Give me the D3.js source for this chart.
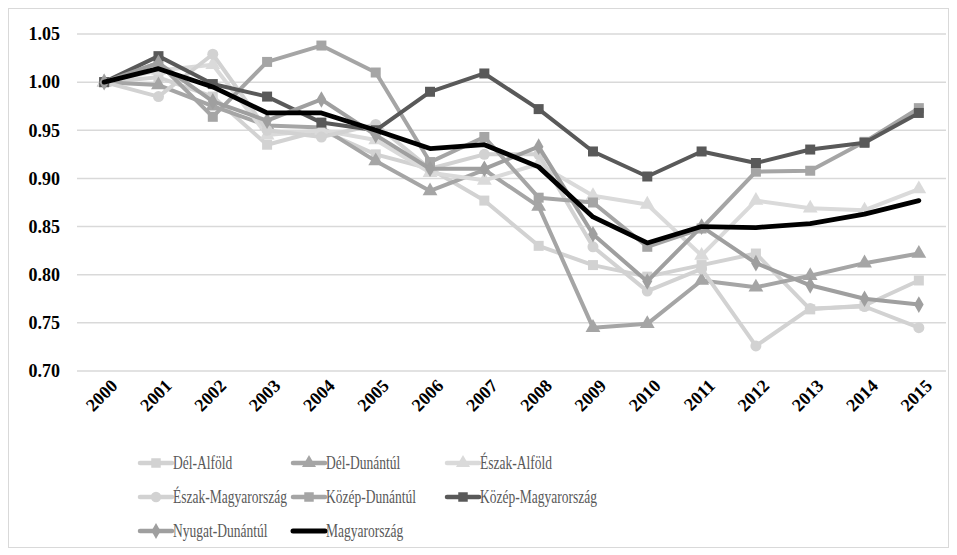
<!DOCTYPE html>
<html>
<head>
<meta charset="utf-8">
<script src="https://cdn.jsdelivr.net/npm/d3@7"></script>
<style>
  body { margin: 0; background: #fff; }
  svg { display: block; }
</style>
</head>
<body>
<svg id="chart" width="957" height="555"></svg>
<script>
"use strict";

var years = ["2000", "2001", "2002", "2003", "2004", "2005", "2006", "2007",
  "2008", "2009", "2010", "2011", "2012", "2013", "2014", "2015"];
var yTicks = [0.70, 0.75, 0.80, 0.85, 0.90, 0.95, 1.00, 1.05];

var delAlfold = [1.00, 1.005, 0.985, 0.935, 0.95, 0.925, 0.91, 0.877, 0.83, 0.81, 0.798, 0.81, 0.822, 0.764, 0.768, 0.794];
var delDunantul = [1.00, 0.997, 0.975, 0.955, 0.953, 0.918, 0.887, 0.909, 0.871, 0.745, 0.749, 0.794, 0.787, 0.799, 0.812, 0.822];
var eszakAlfold = [1.00, 1.012, 1.018, 0.945, 0.95, 0.94, 0.906, 0.898, 0.915, 0.882, 0.873, 0.82, 0.877, 0.869, 0.867, 0.889];
var eszakMagyar = [1.00, 0.985, 1.029, 0.95, 0.943, 0.956, 0.91, 0.925, 0.925, 0.829, 0.783, 0.806, 0.726, 0.765, 0.767, 0.745];
var kozepDunantul = [1.00, 1.02, 0.964, 1.021, 1.038, 1.010, 0.917, 0.943, 0.88, 0.875, 0.829, 0.848, 0.907, 0.908, 0.938, 0.973];
var kozepMagyar = [1.00, 1.027, 0.998, 0.985, 0.958, 0.95, 0.99, 1.009, 0.972, 0.928, 0.902, 0.928, 0.916, 0.93, 0.937, 0.968];
var nyugatDunantul = [1.00, 1.02, 0.98, 0.96, 0.982, 0.945, 0.91, 0.91, 0.933, 0.842, 0.793, 0.85, 0.812, 0.789, 0.775, 0.769];
var magyarorszag = [1.00, 1.014, 0.995, 0.968, 0.968, 0.95, 0.931, 0.935, 0.912, 0.86, 0.833, 0.85, 0.849, 0.853, 0.863, 0.877];

var series = [
  { name: "Dél-Alföld", values: delAlfold, color: "#d2d2d2", marker: "square" },
  { name: "Dél-Dunántúl", values: delDunantul, color: "#a5a5a5", marker: "triangle" },
  { name: "Észak-Alföld", values: eszakAlfold, color: "#dadada", marker: "triangle" },
  { name: "Észak-Magyarország", values: eszakMagyar, color: "#d2d2d2", marker: "circle" },
  { name: "Közép-Dunántúl", values: kozepDunantul, color: "#a5a5a5", marker: "square" },
  { name: "Közép-Magyarország", values: kozepMagyar, color: "#595959", marker: "square" },
  { name: "Nyugat-Dunántúl", values: nyugatDunantul, color: "#9f9f9f", marker: "diamond" },
  { name: "Magyarország", values: magyarorszag, color: "#000000", marker: null }
];

var serif = "'Liberation Serif', 'Times New Roman', serif";
var svg = d3.select("#chart");

// keret
svg.append("rect")
  .attr("x", 8.5).attr("y", 8.5)
  .attr("width", 940).attr("height", 539)
  .attr("fill", "#fff")
  .attr("stroke", "#d9d9d9")
  .attr("stroke-width", 1);

var x = d3.scalePoint().domain(years).range([77, 946]).padding(0.5);
var y = d3.scaleLinear().domain([0.70, 1.05]).range([371, 34]);

// rács
svg.append("g")
  .selectAll("line")
  .data(yTicks)
  .join("line")
  .attr("x1", 77).attr("x2", 946)
  .attr("y1", function(d) { return y(d); })
  .attr("y2", function(d) { return y(d); })
  .attr("stroke", "#d9d9d9")
  .attr("stroke-width", 1.5);

// y tengely
var yAxis = svg.append("g")
  .attr("transform", "translate(60,0)")
  .call(d3.axisLeft(y).tickValues(yTicks).tickFormat(d3.format(".2f")).tickSize(0).tickPadding(0));
yAxis.select(".domain").remove();
yAxis.selectAll("text")
  .attr("font-family", serif)
  .attr("font-weight", "bold")
  .attr("font-size", 18)
  .attr("fill", "#000");

// x tengely, ferde feliratok
var xAxis = svg.append("g")
  .attr("transform", "translate(0,378)")
  .call(d3.axisBottom(x).tickSize(0).tickPadding(0));
xAxis.select(".domain").remove();
xAxis.selectAll("text")
  .attr("font-family", serif)
  .attr("font-weight", "bold")
  .attr("font-size", 18)
  .attr("fill", "#000")
  .attr("text-anchor", "end")
  .attr("dy", 0)
  .attr("transform", "translate(14,9) rotate(-45)");

function markerPath(type, size) {
  var sym = {
    square: d3.symbolSquare,
    triangle: d3.symbolTriangle,
    circle: d3.symbolCircle,
    diamond: d3.symbolDiamond
  }[type];
  var area = { square: 100, triangle: 95, circle: 95, diamond: 80 }[type];
  return d3.symbol().type(sym).size(area * size)();
}

var line = d3.line()
  .x(function(d, i) { return x(years[i]); })
  .y(function(d) { return y(d); });

series.forEach(function(s) {
  var g = svg.append("g").attr("class", "series");
  g.append("path")
    .attr("d", line(s.values))
    .attr("fill", "none")
    .attr("stroke", s.color)
    .attr("stroke-width", s.marker ? 4 : 4.8)
    .attr("stroke-linejoin", "round")
    .attr("stroke-linecap", "round");
  if (s.marker) {
    g.selectAll("path.mk")
      .data(s.values)
      .join("path")
      .attr("class", "mk")
      .attr("d", markerPath(s.marker, 1))
      .attr("fill", s.color)
      .attr("transform", function(d, i) {
        return "translate(" + x(years[i]) + "," + y(d) + ")";
      });
  }
});

// jelmagyarázat (a felirat vízszintesen kissé szűkített, mint az eredetin)
var legendCols = [140, 293, 447];
var legendRows = [463, 497, 531];
var legend = svg.append("g");

var probe = svg.append("text")
  .attr("font-family", serif)
  .attr("font-size", 18)
  .text("Észak-Magyarország");
var squeeze = 114 / probe.node().getComputedTextLength();
probe.remove();

series.forEach(function(s, i) {
  var lx = legendCols[i % 3];
  var ly = legendRows[Math.floor(i / 3)];
  var item = legend.append("g").attr("transform", "translate(" + lx + "," + ly + ")");
  item.append("line")
    .attr("x1", 0).attr("x2", 32)
    .attr("stroke", s.color)
    .attr("stroke-width", s.marker ? 4.5 : 5)
    .attr("stroke-linecap", "round");
  if (s.marker) {
    item.append("path")
      .attr("d", markerPath(s.marker, 0.9))
      .attr("fill", s.color)
      .attr("transform", "translate(16,0)");
  }
  item.append("text")
    .attr("transform", "translate(33,0) scale(" + squeeze + ",1)")
    .attr("dy", "0.35em")
    .attr("font-family", serif)
    .attr("font-size", 18)
    .attr("fill", "#595959")
    .text(s.name);
});
</script>
</body>
</html>
